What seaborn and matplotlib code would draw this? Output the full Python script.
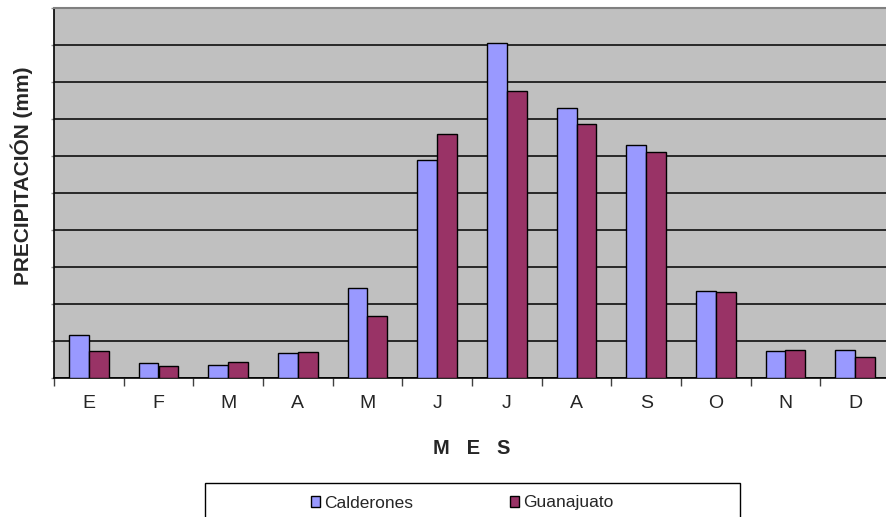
import pandas as pd
import matplotlib
matplotlib.use("Agg")
import matplotlib.pyplot as plt
from matplotlib.patches import Rectangle
import seaborn as sns

# ========================
# Data (mm)
# ========================
meses = ["E", "F", "M", "A", "M", "J", "J", "A", "S", "O", "N", "D"]
calderones = [23.3, 7.9, 7.2, 13.6, 48.4, 117.5, 180.6, 146.0, 125.6, 46.9, 14.7, 14.9]
guanajuato = [14.6, 6.5, 8.8, 13.8, 33.3, 131.5, 154.7, 137.0, 122.0, 46.2, 15.3, 11.3]
series = ["Calderones", "Guanajuato"]
colores = ["#9999FF", "#993366"]

# seaborn needs unique category keys, so index months by position
df = pd.DataFrame({
    "pos": list(range(12)) * 2,
    "valor": calderones + guanajuato,
    "estacion": [series[0]] * 12 + [series[1]] * 12,
})

sns.set_theme(style="white")
plt.rcParams["font.family"] = ["Liberation Sans", "DejaVu Sans"]

fig = plt.figure(figsize=(8.86, 5.17), dpi=100)
ax = fig.add_axes([54 / 886, 1 - 378 / 517, 836 / 886, (378 - 7.5) / 517])

sns.barplot(data=df, x="pos", y="valor", hue="estacion", hue_order=series,
            palette=colores, width=0.57, edgecolor="black", linewidth=1.0,
            saturation=1, ax=ax, zorder=3)

ax.set_facecolor("#C0C0C0")
ax.set_xlim(-0.5, 11.5)
ax.set_ylim(0, 200)

# horizontal gridlines
ax.set_yticks(range(0, 201, 20))
ax.set_yticklabels([])
ax.yaxis.grid(True, color="black", linewidth=1.1, zorder=0)
ax.set_axisbelow(True)
ax.tick_params(axis="y", left=True, length=2, width=1, color="#909090", direction="out", pad=2)

# x ticks at category boundaries, labels at centers
ax.set_xticks([i - 0.5 for i in range(13)])
ax.set_xticklabels([])
ax.set_xticks(range(12), minor=True)
ax.set_xticklabels(meses, minor=True, fontsize=14)
ax.tick_params(axis="x", which="major", bottom=True, length=6, width=1, color="#404040", direction="out")
ax.tick_params(axis="x", which="minor", bottom=True, length=0, pad=12.5)

for s in ["left", "bottom"]:
    ax.spines[s].set_color("black")
    ax.spines[s].set_linewidth(1.2)
ax.spines["top"].set_color("#808080")
ax.spines["top"].set_linewidth(1.5)
ax.spines["right"].set_visible(False)

ax.set_xlabel("")
ax.set_ylabel("")
fig.text(472 / 886, 1 - 449 / 517, "M   E   S", fontsize=14.5, fontweight="bold",
         ha="center", va="center")
fig.text(22 / 886, 1 - 176 / 517, "PRECIPITACIÓN (mm)", fontsize=15, fontweight="bold",
         rotation=90, ha="center", va="center")

# legend below the chart, its frame runs past the bottom edge
handles, labels = ax.get_legend_handles_labels()
ax.get_legend().remove()
fig.legend(handles, labels, loc="center", bbox_to_anchor=(462 / 886, 1 - 503 / 517),
           ncol=2, frameon=False, fontsize=12.5, handlelength=0.55, handleheight=0.55,
           handletextpad=0.2, columnspacing=5.6)
fig.patches.append(Rectangle((205 / 886, -0.1), 535 / 886, 0.1 + (517 - 483) / 517,
                             transform=fig.transFigure, fill=False, edgecolor="black",
                             linewidth=1.0))

fig.savefig("out.png", dpi=100)
